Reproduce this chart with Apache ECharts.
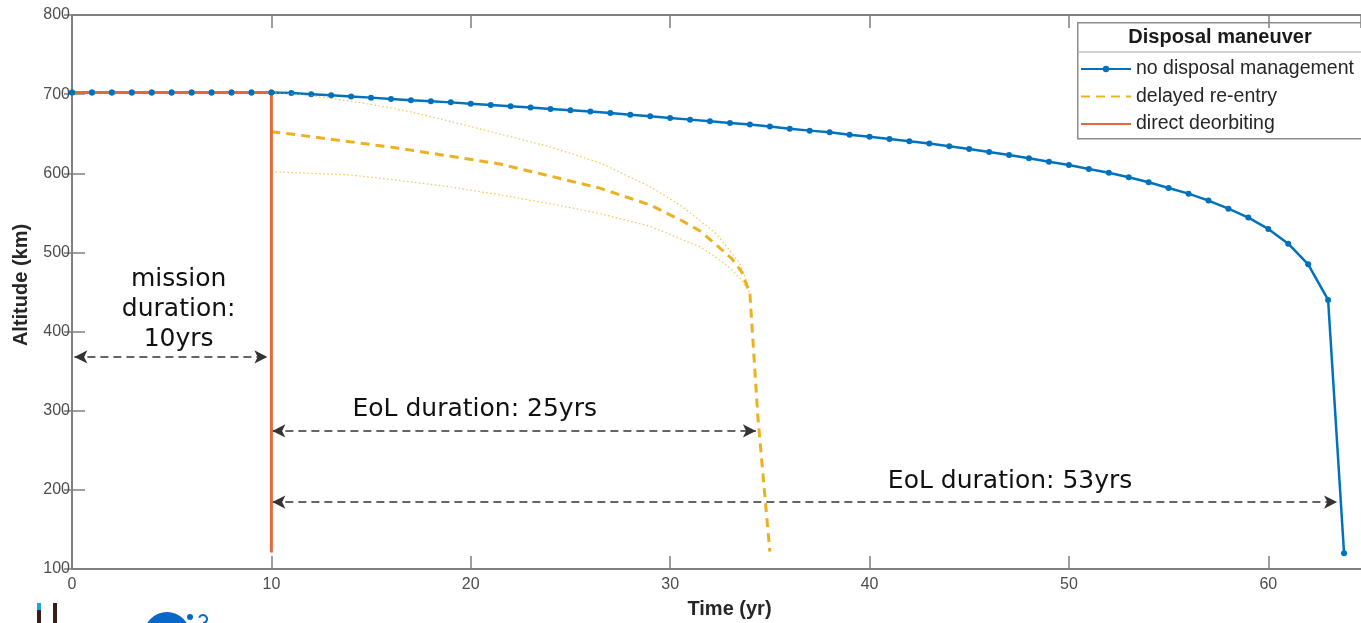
<!DOCTYPE html>
<html>
<head>
<meta charset="utf-8">
<script src="https://cdn.jsdelivr.net/npm/echarts@6/dist/echarts.min.js"></script>
<style>
  html, body { margin: 0; padding: 0; background: #fff; }
  #chart { width: 1361px; height: 623px; }
</style>
</head>
<body>
<div id="chart"></div>
<script>
// axis ticks
const xTicks = [0, 10, 20, 30, 40, 50, 60]
const yTicks = [100, 200, 300, 400, 500, 600, 700, 800]

// no disposal management: yearly samples
const noDisposalYears = [0, 1, 2, 3, 4, 5, 6, 7, 8, 9, 10, 11, 12, 13, 14, 15, 16, 17, 18, 19, 20,
  21, 22, 23, 24, 25, 26, 27, 28, 29, 30, 31, 32, 33, 34, 35, 36, 37, 38, 39, 40,
  41, 42, 43, 44, 45, 46, 47, 48, 49, 50, 51, 52, 53, 54, 55, 56, 57, 58, 59, 60,
  61, 62, 63, 63.8]
const noDisposalAlt = [702, 702, 702, 702, 702, 702, 702, 702, 702, 702, 702,
  701.5, 700, 698.5, 697, 695.6, 694, 692.3, 691, 689.6, 688,
  686.4, 684.7, 683, 681.3, 679.6, 678, 676.2, 674, 672, 670,
  667.8, 665.7, 663.6, 661.5, 659.2, 656.4, 653.9, 651.8, 648.8, 646.3,
  643.4, 640.5, 637.5, 634.2, 630.8, 627, 623.2, 619, 614.7, 610.5,
  605.5, 600.6, 595, 588.7, 581.5, 574.3, 565.5, 555.3, 544, 529.7,
  511, 485, 440, 120]

// delayed re-entry (dashed) and its spread (dotted)
const delayedYears = [10, 11.6, 13.9, 16.4, 19, 21.4, 23.9, 26.5, 29, 30.6, 31.5, 32.3, 33.1, 33.6, 34, 34.4, 35]
const delayedAlt = [652.6, 647.6, 640, 631.6, 621.5, 612, 597, 581, 560, 540, 527, 510, 492, 475, 448, 292, 122]
const upperYears = [10, 11, 12, 13, 14, 15, 16, 17, 18.9, 21.4, 23.9, 26.5, 29, 30.6, 32.3, 33.5, 34]
const upperAlt = [702, 700.5, 698, 694.5, 691, 687, 682.5, 677.5, 666, 650, 634, 613, 583, 558, 524, 486, 452]
const lowerYears = [10, 13.9, 16.4, 18.9, 21.4, 23.9, 26.5, 29, 31.5, 32.3, 33.1, 33.6, 34]
const lowerAlt = [602, 598, 591, 583, 573, 562, 549, 533, 507, 494, 478, 465, 448]

// direct deorbiting
const directYears = [0, 10, 10]
const directAlt = [702, 702, 121]

// annotation arrows [x1, x2, altitude] and notes [x, altitude, text]
const arrows = [[0.12, 9.8, 368], [10.05, 34.3, 274.5], [10.05, 63.45, 184.5]]
const notes = [
  [5.35, 427.5, 'mission\nduration:\n10yrs'],
  [20.2, 302, 'EoL duration: 25yrs'],
  [47.05, 210, 'EoL duration: 53yrs']
]

const pairs = (xs, ys) => xs.map((x, i) => [x, ys[i]])

const BLUE = '#0072bd'
const YELLOW = '#edb120'
const RED = '#e4683c'
const AXIS = '#808080'
const LABEL = '#4d4d4d'

const chart = echarts.init(document.getElementById('chart'))

const tickAxis = {
  axisLine: { show: true, lineStyle: { color: AXIS, width: 2 } },
  axisTick: { show: true, inside: true, length: 13, lineStyle: { color: AXIS, width: 1.5 } },
  splitLine: { show: false }
}

const option = {
  animation: false,
  backgroundColor: '#fff',
  grid: { left: 72, right: 0, top: 15, bottom: 54, containLabel: false, outerBoundsMode: 'none' },
  xAxis: [
    Object.assign({
      type: 'value', min: 0, max: 64.65, interval: 10, position: 'bottom',
      name: 'Time (yr)', nameLocation: 'middle', nameGap: 30,
      nameTextStyle: {
        fontFamily: 'Liberation Sans', fontWeight: 'bold', fontSize: 20, color: '#262626',
        padding: [0, 0, 0, 26]
      },
      axisLabel: {
        fontFamily: 'Liberation Sans', fontSize: 16, color: LABEL, margin: 8,
        showMaxLabel: false,
        formatter: v => (xTicks.indexOf(v) >= 0 ? String(v) : '')
      }
    }, tickAxis),
    Object.assign({
      type: 'value', min: 0, max: 64.65, interval: 10, position: 'top',
      axisLabel: { show: false }
    }, tickAxis)
  ],
  yAxis: [
    Object.assign({
      type: 'value', min: 100, max: 800, interval: 100, position: 'left',
      name: 'Altitude (km)', nameLocation: 'middle', nameGap: 41, nameRotate: 90,
      nameTextStyle: {
        fontFamily: 'Liberation Sans', fontWeight: 'bold', fontSize: 20, color: '#262626',
        padding: [0, 0, 0, 14]
      },
      axisLabel: {
        fontFamily: 'Liberation Sans', fontSize: 16, color: LABEL, margin: 2,
        formatter: v => (yTicks.indexOf(v) >= 0 ? String(v) : '')
      }
    }, tickAxis),
    {
      type: 'value', min: 100, max: 800, interval: 100, position: 'right',
      axisLabel: { show: false },
      axisLine: { show: false },
      axisTick: { show: true, inside: true, length: 8, lineStyle: { color: AXIS, width: 1.5 } },
      splitLine: { show: false }
    }
  ],
  legend: {
    data: [
      { name: 'no disposal management' },
      { name: 'delayed re-entry', itemStyle: { opacity: 0 } },
      { name: 'direct deorbiting', itemStyle: { opacity: 0 } }
    ],
    orient: 'vertical',
    left: 1080,
    top: 59,
    padding: 0,
    itemWidth: 50,
    itemHeight: 8,
    itemGap: 7.5,
    textStyle: { fontFamily: 'Liberation Sans', fontSize: 19.5, color: '#262626' }
  },
  graphic: [
    {
      type: 'rect', left: 1077, top: 22, z: 100,
      shape: { width: 300, height: 116 },
      style: { fill: 'rgba(0,0,0,0)', stroke: '#8c8c8c', lineWidth: 1.5 }
    },
    {
      type: 'line', z: 100,
      shape: { x1: 1077, y1: 52, x2: 1361, y2: 52 },
      style: { stroke: '#a6a6a6', lineWidth: 1 }
    },
    {
      type: 'text', x: 1220, y: 37, z: 100,
      style: {
        text: 'Disposal maneuver', fontFamily: 'Liberation Sans', fontWeight: 'bold', fontSize: 20,
        fill: '#1a1a1a', align: 'center', verticalAlign: 'middle'
      }
    },
    // cropped logo fragments at the bottom-left
    { type: 'rect', shape: { x: 37, y: 603, width: 4, height: 20 }, style: { fill: '#3a1e18' } },
    { type: 'rect', shape: { x: 37, y: 603, width: 4, height: 7 }, style: { fill: '#1fa3e3' } },
    { type: 'rect', shape: { x: 53, y: 603, width: 4, height: 20 }, style: { fill: '#3a1e18' } },
    { type: 'circle', shape: { cx: 167, cy: 635, r: 23 }, style: { fill: '#0a67c8' } },
    { type: 'circle', shape: { cx: 190, cy: 617, r: 3 }, style: { fill: '#0a67c8' } },
    { type: 'arc', shape: { cx: 203, cy: 619, r: 4, startAngle: -Math.PI * 0.9, endAngle: Math.PI * 0.5 }, style: { stroke: '#0a67c8', lineWidth: 2, fill: 'none' } }
  ],
  series: [
    {
      name: 'no disposal management', type: 'line', z: 2,
      data: pairs(noDisposalYears, noDisposalAlt),
      symbol: 'circle', symbolSize: 6, showSymbol: true,
      lineStyle: { color: BLUE, width: 2.5 },
      itemStyle: { color: BLUE }
    },
    {
      name: 'upper spread', type: 'line', z: 3,
      data: pairs(upperYears, upperAlt), symbol: 'none',
      lineStyle: { color: YELLOW, width: 1.2, type: [1.5, 2.5], opacity: 0.75 }
    },
    {
      name: 'lower spread', type: 'line', z: 3,
      data: pairs(lowerYears, lowerAlt), symbol: 'none',
      lineStyle: { color: YELLOW, width: 1.2, type: [1.5, 2.5], opacity: 0.75 }
    },
    {
      name: 'delayed re-entry', type: 'line', z: 4,
      data: pairs(delayedYears, delayedAlt), symbol: 'none',
      lineStyle: { color: YELLOW, width: 3, type: [9, 6] },
      itemStyle: { color: YELLOW }
    },
    {
      name: 'direct deorbiting', type: 'line', z: 5,
      data: pairs(directYears, directAlt), symbol: 'none',
      lineStyle: { color: RED, width: 3 },
      itemStyle: { color: RED }
    },
    {
      // blue markers stay visible over the orange mission segment
      name: 'mission markers', type: 'scatter', z: 6,
      data: pairs(noDisposalYears.slice(0, 11), noDisposalAlt.slice(0, 11)),
      symbol: 'circle', symbolSize: 6,
      itemStyle: { color: BLUE, opacity: 1 }
    },
    {
      name: 'notes', type: 'scatter', z: 7,
      data: notes.map(n => [n[0], n[1], n[2]]),
      symbolSize: 0,
      itemStyle: { opacity: 1 },
      label: {
        show: true, position: 'inside',
        formatter: p => p.value[2],
        fontFamily: 'DejaVu Sans', fontSize: 25, lineHeight: 30, color: '#111', align: 'center'
      },
      markLine: {
        silent: true,
        symbol: ['arrow', 'arrow'],
        symbolSize: [10, 13],
        label: { show: false },
        lineStyle: { color: '#333', width: 1.5, type: [8, 5] },
        data: arrows.map(a => [{ coord: [a[0], a[2]] }, { coord: [a[1], a[2]] }])
      }
    }
  ]
}

chart.setOption(option)
</script>
</body>
</html>
